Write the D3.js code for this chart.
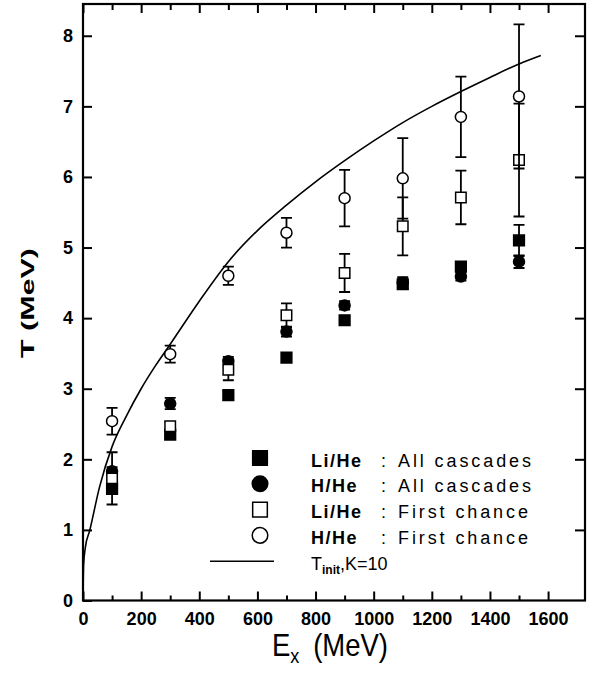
<!DOCTYPE html>
<html>
<head>
<meta charset="utf-8">
<script src="https://cdn.jsdelivr.net/npm/d3@7"></script>
<style>
  body { margin: 0; background: #fff; }
  svg { display: block; }
  .tick text { font-family: "Liberation Sans", Arial, sans-serif; font-weight: bold; font-size: 18px; fill: #000; }
  .legend text { font-family: "Liberation Sans", Arial, sans-serif; font-size: 18px; fill: #000; }
</style>
</head>
<body>
<figure id="graph" style="margin:0"></figure>
<script>
// excitation energies (MeV)
const energies = [100, 300, 500, 700, 900, 1100, 1300, 1500];

// Li/He : all cascades
const liHeAll = [1.58, 2.35, 2.91, 3.44, 3.97, 4.48, 4.73, 5.10];
const liHeAllErr = [0.06, 0.05, 0.06, 0.06, 0.06, 0.07, 0.06, 0.22];
// H/He : all cascades
const hHeAll = [1.83, 2.79, 3.39, 3.81, 4.18, 4.50, 4.59, 4.80];
const hHeAllErr = [0.06, 0.08, 0.06, 0.07, 0.06, 0.08, 0.06, 0.09];
// Li/He : first chance
const liHeFirst = [1.73, 2.47, 3.27, 4.04, 4.64, 5.30, 5.71, 6.24];
const liHeFirstErr = [0.37, 0.06, 0.15, 0.17, 0.27, 0.41, 0.38, 0.80];
// H/He : first chance
const hHeFirst = [2.54, 3.49, 4.60, 5.21, 5.70, 5.98, 6.85, 7.14];
const hHeFirstErr = [0.19, 0.12, 0.13, 0.21, 0.40, 0.57, 0.57, 1.02];

// T_init, K=10 curve
const curveE = [0, 2, 8, 23, 57, 100, 150, 200, 250, 300, 400, 500, 600, 700, 800, 900, 1000, 1100, 1200, 1300, 1400, 1500, 1575];
const curveT = [0, 0.5, 0.75, 0.99, 1.61, 2.18, 2.62, 3.00, 3.33, 3.63, 4.24, 4.80, 5.24, 5.60, 5.93, 6.23, 6.51, 6.77, 7.00, 7.21, 7.41, 7.60, 7.72];

const xMajor = [0, 200, 400, 600, 800, 1000, 1200, 1400, 1600];
const xMinor = [100, 300, 500, 700, 900, 1100, 1300, 1500];
const yTicks = [0, 1, 2, 3, 4, 5, 6, 7, 8];

const legendNames = ['Li/He', 'H/He', 'Li/He', 'H/He'];
const legendDesc = ['All cascades', 'All cascades', 'First chance', 'First chance'];

const width = 592, height = 677;
const mLeft = 83, mRight = 585, mTop = 4, mBottom = 600.5;

const svg = d3.select('figure#graph')
  .append('svg')
  .attr('width', width)
  .attr('height', height);

const x = d3.scaleLinear().domain([0, 1727]).range([mLeft, mRight]);
const y = d3.scaleLinear().domain([0, 8.45]).range([mBottom, mTop]);

// axes, ticks pointing inward
svg.append('g')
  .attr('transform', `translate(0,${mBottom})`)
  .call(d3.axisBottom(x).tickValues(xMajor).tickSizeInner(-9).tickSizeOuter(0).tickPadding(12).tickFormat(d3.format('d')))
svg.append('g')
  .attr('transform', `translate(0,${mBottom})`)
  .call(d3.axisBottom(x).tickValues(xMinor).tickSizeInner(-5).tickSizeOuter(0).tickFormat(''))
svg.append('g')
  .attr('transform', `translate(0,${mTop})`)
  .call(d3.axisTop(x).tickValues(xMajor).tickSizeInner(-9).tickSizeOuter(0).tickFormat(''))
svg.append('g')
  .attr('transform', `translate(0,${mTop})`)
  .call(d3.axisTop(x).tickValues(xMinor).tickSizeInner(-6).tickSizeOuter(0).tickFormat(''))
svg.append('g')
  .attr('transform', `translate(${mLeft},0)`)
  .call(d3.axisLeft(y).tickValues(yTicks).tickSizeInner(-9).tickSizeOuter(0).tickPadding(10))
svg.append('g')
  .attr('transform', `translate(${mRight},0)`)
  .call(d3.axisRight(y).tickValues(yTicks.slice(1)).tickSizeInner(-10).tickSizeOuter(0).tickFormat(''))

svg.selectAll('.domain').remove()
svg.selectAll('.tick line').attr('stroke', '#000').attr('stroke-width', 2)

svg.append('rect')
  .attr('x', mLeft).attr('y', mTop)
  .attr('width', mRight - mLeft).attr('height', mBottom - mTop)
  .attr('fill', 'none').attr('stroke', '#000').attr('stroke-width', 2.2)

// curve
svg.append('path')
  .datum(curveE.map((e, i) => [e, curveT[i]]))
  .attr('fill', 'none')
  .attr('stroke', '#000')
  .attr('stroke-width', 1.6)
  .attr('d', d3.line().x(d => x(d[0])).y(d => y(d[1])).curve(d3.curveMonotoneX))

const series = [
  { vals: liHeAll, err: liHeAllErr, shape: d3.symbolSquare, size: 115, filled: true },
  { vals: hHeAll, err: hHeAllErr, shape: d3.symbolCircle, size: 95, filled: true },
  { vals: liHeFirst, err: liHeFirstErr, shape: d3.symbolSquare, size: 110, filled: false },
  { vals: hHeFirst, err: hHeFirstErr, shape: d3.symbolCircle, size: 95, filled: false }
];

const cap = 5.5;
series.forEach(s => {
  const g = svg.append('g')
  const pts = energies.map((e, i) => ({ e, v: s.vals[i], err: s.err[i] }))
  g.selectAll('.bar')
    .data(pts)
    .join('path')
    .attr('fill', 'none')
    .attr('stroke', '#000')
    .attr('stroke-width', 1.8)
    .attr('d', d => {
      const px = x(d.e), y1 = y(d.v + d.err), y2 = y(d.v - d.err)
      return `M${px},${y1}V${y2}M${px - cap},${y1}H${px + cap}M${px - cap},${y2}H${px + cap}`
    })
  g.selectAll('.pt')
    .data(pts)
    .join('path')
    .attr('transform', d => `translate(${x(d.e)},${y(d.v)})`)
    .attr('d', d3.symbol().type(s.shape).size(s.size))
    .attr('fill', s.filled ? '#000' : '#fff')
    .attr('stroke', '#000')
    .attr('stroke-width', 1.5)
})

// legend
const legend = svg.append('g').attr('class', 'legend')
const rowY = i => 458 + i * 25.8
series.forEach((s, i) => {
  legend.append('path')
    .attr('transform', `translate(260,${rowY(i)})`)
    .attr('d', d3.symbol().type(s.shape).size(s.shape === d3.symbolSquare ? 215 : 190))
    .attr('fill', s.filled ? '#000' : '#fff')
    .attr('stroke', '#000')
    .attr('stroke-width', 1.5)
  const t = legend.append('text').attr('y', rowY(i) + 8.5)
  t.append('tspan').attr('x', 311).attr('font-weight', 'bold').attr('letter-spacing', 1.5).text(legendNames[i])
  t.append('tspan').attr('x', 381).text(':')
  t.append('tspan').attr('x', 398).attr('letter-spacing', 2.9).text(legendDesc[i])
})
legend.append('line')
  .attr('x1', 210).attr('x2', 274)
  .attr('y1', rowY(4)).attr('y2', rowY(4))
  .attr('stroke', '#000').attr('stroke-width', 1.6)
const tl = legend.append('text').attr('x', 311).attr('y', rowY(4) + 8.5)
tl.append('tspan').text('T')
tl.append('tspan').attr('font-size', 12).attr('font-weight', 'bold').attr('dy', 4).text('init')
tl.append('tspan').attr('dy', -4).text(',K=10')

// axis titles
const xt = svg.append('text')
  .attr('transform', 'translate(272,656) scale(0.86,1)')
  .attr('font-family', '"Liberation Sans", Arial, sans-serif')
  .attr('font-size', 32)
xt.append('tspan').text('E')
xt.append('tspan').attr('font-size', 21).attr('dy', 7).text('x')
xt.append('tspan').attr('dy', -7).attr('dx', 16).text('(MeV)')

svg.append('text')
  .attr('transform', 'translate(34,358) rotate(-90)')
  .attr('font-family', '"Liberation Sans", Arial, sans-serif')
  .attr('font-size', 19)
  .attr('font-weight', 'bold')
  .attr('textLength', 110)
  .attr('lengthAdjust', 'spacingAndGlyphs')
  .text('T  (MeV)')
</script>
</body>
</html>
